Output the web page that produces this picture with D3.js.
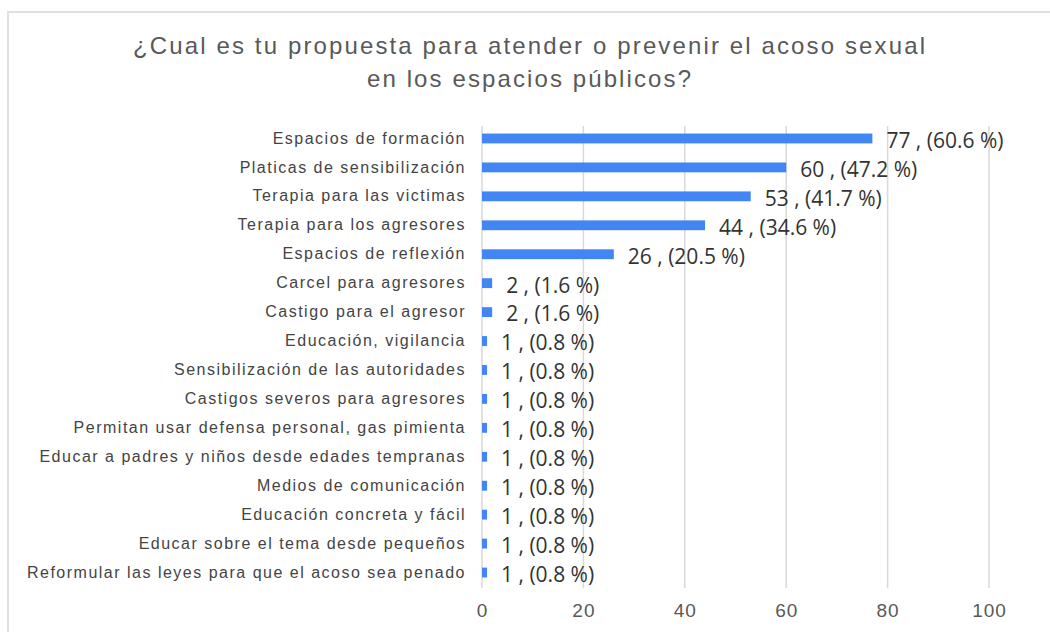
<!DOCTYPE html>
<html><head><meta charset="utf-8">
<script src="https://cdn.jsdelivr.net/npm/d3@7"></script>
<style>body{margin:0;background:#fff}svg{display:block}</style>
</head><body>
<script>
const categories = [
  "Espacios de formación",
  "Platicas de sensibilización",
  "Terapia para las victimas",
  "Terapia para los agresores",
  "Espacios de reflexión",
  "Carcel para agresores",
  "Castigo para el agresor",
  "Educación, vigilancia",
  "Sensibilización de las autoridades",
  "Castigos severos para agresores",
  "Permitan usar defensa personal, gas pimienta ",
  "Educar a padres y niños desde edades tempranas",
  "Medios de comunicación",
  "Educación concreta y fácil",
  "Educar sobre el tema desde pequeños",
  "Reformular las leyes para que el acoso sea penado"
];
const counts = [77, 60, 53, 44, 26, 2, 2, 1, 1, 1, 1, 1, 1, 1, 1, 1];
const percents = ["60.6", "47.2", "41.7", "34.6", "20.5", "1.6", "1.6", "0.8", "0.8", "0.8", "0.8", "0.8", "0.8", "0.8", "0.8", "0.8"];
const ticks = [0, 20, 40, 60, 80, 100];
const titleLines = ["¿Cual es tu propuesta para atender o prevenir el acoso sexual", "en los espacios públicos?"];

const W = 1050, H = 632;
const svg = d3.select("body").append("svg").attr("width", W).attr("height", H);

// chart border
svg.append("rect").attr("x", 8).attr("y", 12).attr("width", 1100).attr("height", 700)
  .attr("fill", "none").attr("stroke", "#e0e0e0").attr("stroke-width", 2);

// title
const titleWidths = [792, 324];
svg.append("g").selectAll("text").data(titleLines).join("text")
  .attr("x", 529).attr("y", (d, i) => 54 + i * 33)
  .attr("text-anchor", "middle")
  .attr("font-family", "Liberation Sans, Arial, sans-serif")
  .attr("font-size", 24).attr("fill", "#595959")
  .attr("textLength", (d, i) => titleWidths[i]).attr("lengthAdjust", "spacing")
  .text(d => d);

const x = d3.scaleLinear().domain([0, 100]).range([482, 989]);
const y = d3.scaleBand().domain(categories).range([124, 587]).paddingInner(0.66).paddingOuter(0.33);

// gridlines
svg.append("g").selectAll("line").data(ticks).join("line")
  .attr("x1", d => x(d)).attr("x2", d => x(d))
  .attr("y1", 126).attr("y2", 588)
  .attr("stroke", "#d9d9d9").attr("stroke-width", 1.5);

// x axis labels
const xAxis = d3.axisBottom(x).tickValues(ticks).tickSize(0).tickPadding(0);
const gx = svg.append("g").attr("transform", "translate(0,603)").call(xAxis);
gx.select(".domain").remove();
gx.selectAll("text").attr("font-family", "Liberation Sans, Arial, sans-serif")
  .attr("font-size", 19).attr("letter-spacing", "1px").attr("fill", "#595959").attr("dy", "0.71em");

// category labels
const yAxis = d3.axisLeft(y).tickSize(0).tickPadding(0);
const gy = svg.append("g").attr("transform", "translate(466,0)").call(yAxis);
gy.select(".domain").remove();
gy.selectAll("text").attr("font-family", "Liberation Sans, Arial, sans-serif")
  .attr("font-size", 16).attr("letter-spacing", "1.5px").attr("fill", "#444");

// bars
svg.append("g").selectAll("rect").data(counts).join("rect")
  .attr("x", x(0)).attr("y", (d, i) => y(categories[i]))
  .attr("width", d => x(d) - x(0)).attr("height", y.bandwidth())
  .attr("fill", "#4285f4");

// data labels
svg.append("g").selectAll("text").data(counts).join("text")
  .attr("x", d => x(d) + 14)
  .attr("y", (d, i) => y(categories[i]) + y.bandwidth() / 2 + 2)
  .attr("dy", "0.35em")
  .attr("font-family", "Open Sans, sans-serif")
  .attr("font-size", 21).attr("fill", "#333")
  .text((d, i) => `${d} , (${percents[i]} %)`);
</script>
</body></html>
